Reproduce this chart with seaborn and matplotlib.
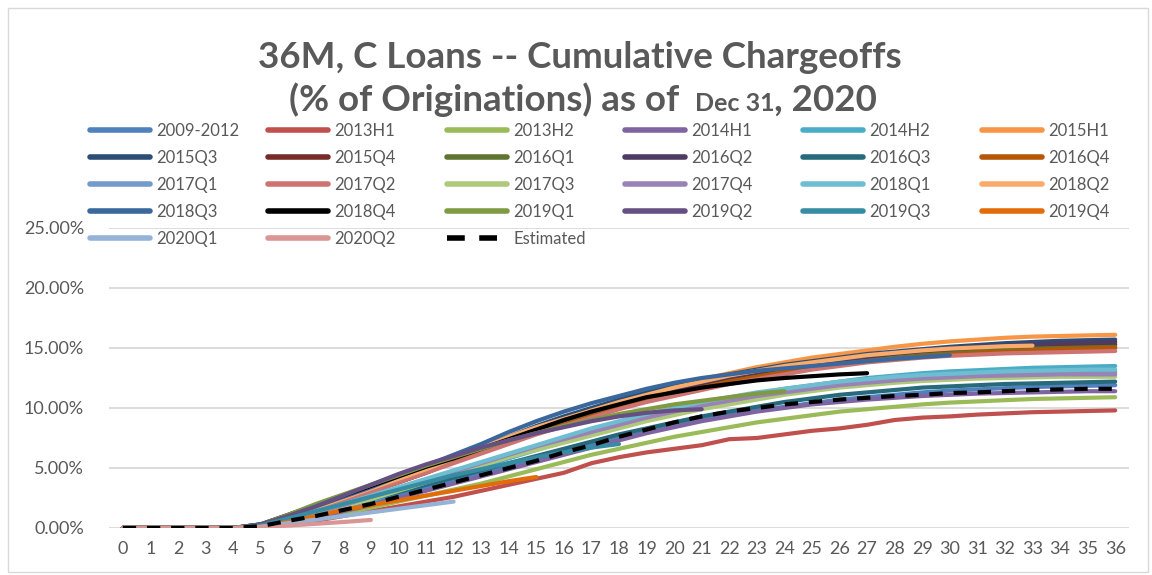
import numpy as np
import pandas as pd
import matplotlib.pyplot as plt
import seaborn as sns
from matplotlib.lines import Line2D
from matplotlib.patches import Rectangle
from matplotlib.ticker import PercentFormatter

sns.set_style("white")
plt.rcParams['font.family'] = ['Lato', 'DejaVu Sans']

# Cumulative chargeoffs (% of originations) by months on book
s_2009_2012 = [0, 0, 0, 0, 0, 0.1, 0.5, 1.0, 1.5, 2.1, 2.7, 3.3, 3.9, 4.5, 5.1, 5.7, 6.3, 6.9, 7.5, 8.0, 8.5, 9.0, 9.4, 9.8, 10.1, 10.4, 10.7, 10.9, 11.1, 11.3, 11.45, 11.55, 11.65, 11.75, 11.8, 11.85, 11.9]
s_2013h1 = [0, 0, 0, 0, 0, 0.1, 0.3, 0.6, 1.0, 1.4, 1.8, 2.2, 2.6, 3.1, 3.6, 4.1, 4.6, 5.4, 5.9, 6.3, 6.6, 6.9, 7.4, 7.5, 7.8, 8.1, 8.3, 8.6, 9.0, 9.2, 9.3, 9.45, 9.55, 9.65, 9.7, 9.75, 9.8]
s_2013h2 = [0, 0, 0, 0, 0, 0.1, 0.4, 0.8, 1.2, 1.7, 2.2, 2.7, 3.2, 3.7, 4.3, 4.9, 5.5, 6.1, 6.6, 7.1, 7.6, 8.0, 8.4, 8.8, 9.1, 9.4, 9.7, 9.9, 10.1, 10.3, 10.45, 10.55, 10.65, 10.75, 10.8, 10.85, 10.9]
s_2014h1 = [0, 0, 0, 0, 0, 0.1, 0.5, 0.9, 1.4, 1.9, 2.5, 3.1, 3.7, 4.3, 4.9, 5.5, 6.1, 6.7, 7.3, 7.9, 8.4, 8.9, 9.3, 9.7, 10.0, 10.3, 10.5, 10.7, 10.85, 11.0, 11.1, 11.2, 11.25, 11.3, 11.35, 11.4, 11.4]
s_2014h2 = [0, 0, 0, 0, 0, 0.15, 0.6, 1.1, 1.7, 2.3, 3.0, 3.7, 4.4, 5.1, 5.8, 6.5, 7.2, 7.9, 8.6, 9.2, 9.8, 10.3, 10.8, 11.2, 11.6, 11.9, 12.2, 12.5, 12.7, 12.9, 13.05, 13.15, 13.25, 13.35, 13.4, 13.45, 13.5]
s_2015h1 = [0, 0, 0, 0, 0, 0.2, 0.8, 1.5, 2.2, 3.0, 3.8, 4.6, 5.5, 6.4, 7.3, 8.2, 9.0, 9.8, 10.5, 11.2, 11.8, 12.4, 12.9, 13.4, 13.8, 14.2, 14.5, 14.8, 15.1, 15.35, 15.55, 15.7, 15.85, 15.95, 16.0, 16.05, 16.1]
s_2015q3 = [0, 0, 0, 0, 0, 0.25, 0.9, 1.6, 2.4, 3.2, 4.0, 4.9, 5.8, 6.7, 7.6, 8.5, 9.3, 10.0, 10.7, 11.3, 11.9, 12.4, 12.8, 13.2, 13.6, 13.9, 14.2, 14.5, 14.7, 14.9, 15.1, 15.25, 15.4, 15.5, 15.6, 15.65, 15.7]
s_2015q4 = [0, 0, 0, 0, 0, 0.2, 0.8, 1.5, 2.2, 3.0, 3.8, 4.6, 5.5, 6.3, 7.2, 8.0, 8.8, 9.5, 10.2, 10.8, 11.4, 11.9, 12.4, 12.8, 13.2, 13.5, 13.8, 14.1, 14.35, 14.55, 14.75, 14.9, 15.05, 15.15, 15.2, 15.25, 15.3]
s_2016q1 = [0, 0, 0, 0, 0, 0.25, 0.9, 1.7, 2.5, 3.3, 4.1, 4.9, 5.7, 6.5, 7.3, 8.1, 8.8, 9.5, 10.1, 10.7, 11.2, 11.7, 12.2, 12.6, 13.0, 13.4, 13.7, 13.95, 14.2, 14.4, 14.55, 14.7, 14.85, 14.95, 15.0, 15.05, 15.1]
s_2016q2 = [0, 0, 0, 0, 0, 0.25, 0.9, 1.7, 2.5, 3.3, 4.2, 5.0, 5.9, 6.7, 7.5, 8.3, 9.0, 9.7, 10.4, 11.0, 11.6, 12.1, 12.6, 13.0, 13.4, 13.7, 14.0, 14.3, 14.55, 14.8, 14.95, 15.1, 15.2, 15.3, 15.4, 15.45, 15.5]
s_2016q3 = [0, 0, 0, 0, 0, 0.2, 0.7, 1.2, 1.8, 2.4, 3.0, 3.6, 4.2, 4.8, 5.4, 6.0, 6.6, 7.2, 7.8, 8.3, 8.8, 9.3, 9.7, 10.1, 10.5, 10.8, 11.1, 11.3, 11.5, 11.7, 11.8, 11.9, 12.0, 12.05, 12.1, 12.15, 12.2]
s_2016q4 = [0, 0, 0, 0, 0, 0.2, 0.8, 1.5, 2.3, 3.1, 3.9, 4.7, 5.5, 6.3, 7.1, 7.9, 8.6, 9.3, 10.0, 10.6, 11.2, 11.7, 12.2, 12.6, 13.0, 13.3, 13.6, 13.9, 14.1, 14.3, 14.45, 14.6, 14.7, 14.8, 14.9, 14.95, 15.0]
s_2017q1 = [0, 0, 0, 0, 0, 0.2, 0.7, 1.3, 1.9, 2.5, 3.2, 3.9, 4.6, 5.3, 6.0, 6.7, 7.4, 8.0, 8.6, 9.2, 9.7, 10.2, 10.6, 11.0, 11.4, 11.7, 12.0, 12.2, 12.4, 12.55, 12.65, 12.75, 12.85, 12.9, 12.95, 13.0, 13.0]
s_2017q2 = [0, 0, 0, 0, 0, 0.2, 0.8, 1.5, 2.2, 3.0, 3.8, 4.6, 5.4, 6.2, 7.0, 7.8, 8.5, 9.2, 9.9, 10.5, 11.0, 11.5, 12.0, 12.4, 12.8, 13.2, 13.5, 13.8, 14.0, 14.2, 14.35, 14.45, 14.55, 14.6, 14.65, 14.7, 14.75]
s_2017q3 = [0, 0, 0, 0, 0, 0.2, 0.7, 1.2, 1.8, 2.4, 3.1, 3.8, 4.5, 5.2, 5.9, 6.5, 7.1, 7.7, 8.3, 8.9, 9.4, 9.9, 10.3, 10.7, 11.1, 11.4, 11.7, 11.9, 12.1, 12.25, 12.35, 12.45, 12.5, 12.55, 12.6, 12.6, 12.6]
s_2017q4 = [0, 0, 0, 0, 0, 0.2, 0.7, 1.3, 1.9, 2.6, 3.3, 4.0, 4.7, 5.4, 6.1, 6.8, 7.4, 8.0, 8.6, 9.2, 9.7, 10.2, 10.6, 11.0, 11.3, 11.6, 11.9, 12.1, 12.3, 12.45, 12.55, 12.65, 12.7, 12.75, 12.8, 12.8, 12.8]
s_2018q1 = [0, 0, 0, 0, 0, 0.2, 0.8, 1.4, 2.0, 2.7, 3.4, 4.1, 4.8, 5.5, 6.2, 6.9, 7.6, 8.3, 8.9, 9.5, 10.0, 10.5, 10.9, 11.3, 11.6, 11.9, 12.2, 12.4, 12.6, 12.75, 12.85, 12.95, 13.05, 13.1, 13.15, 13.2, 13.2]
s_2018q2 = [0, 0, 0, 0, 0, 0.25, 0.9, 1.7, 2.5, 3.3, 4.1, 4.9, 5.8, 6.7, 7.6, 8.4, 9.1, 9.8, 10.5, 11.1, 11.7, 12.2, 12.7, 13.1, 13.5, 13.8, 14.1, 14.4, 14.6, 14.8, 14.95, 15.05, 15.15, 15.2]
s_2018q3 = [0, 0, 0, 0, 0, 0.3, 1.0, 1.8, 2.6, 3.4, 4.3, 5.2, 6.1, 7.0, 8.0, 8.9, 9.7, 10.4, 11.0, 11.6, 12.1, 12.5, 12.8, 13.1, 13.3, 13.5, 13.7, 13.9, 14.1, 14.25, 14.4]
s_2018q4 = [0, 0, 0, 0, 0, 0.3, 1.1, 1.9, 2.7, 3.5, 4.3, 5.1, 5.8, 6.6, 7.4, 8.2, 9.0, 9.7, 10.3, 10.9, 11.3, 11.7, 12.0, 12.3, 12.5, 12.65, 12.8, 12.9]
s_2019q1 = [0, 0, 0, 0, 0, 0.3, 1.1, 2.0, 2.8, 3.6, 4.4, 5.2, 5.9, 6.6, 7.3, 7.9, 8.5, 9.0, 9.5, 9.9, 10.3, 10.6, 10.9, 11.2, 11.4]
s_2019q2 = [0, 0, 0, 0, 0, 0.3, 1.0, 1.8, 2.7, 3.6, 4.5, 5.3, 6.0, 6.7, 7.3, 7.9, 8.4, 8.9, 9.3, 9.6, 9.8, 9.9]
s_2019q3 = [0, 0, 0, 0, 0, 0.2, 0.8, 1.4, 2.0, 2.6, 3.2, 3.8, 4.4, 4.9, 5.4, 5.9, 6.3, 6.7, 7.0]
s_2019q4 = [0, 0, 0, 0, 0, 0.1, 0.5, 1.0, 1.5, 1.9, 2.3, 2.7, 3.1, 3.5, 3.9, 4.25]
s_2020q1 = [0, 0, 0, 0, 0, 0.1, 0.4, 0.7, 1.0, 1.3, 1.6, 1.9, 2.2]
s_2020q2 = [0, 0, 0, 0, 0, 0.05, 0.2, 0.35, 0.5, 0.67]
s_estimated = [0, 0, 0, 0, 0, 0.15, 0.6, 1.0, 1.5, 2.0, 2.6, 3.2, 3.8, 4.4, 5.0, 5.6, 6.3, 6.9, 7.6, 8.2, 8.8, 9.3, 9.7, 10.0, 10.3, 10.5, 10.7, 10.85, 11.0, 11.1, 11.25, 11.3, 11.4, 11.5, 11.55, 11.6, 11.6]

cohorts = ['2009-2012', '2013H1', '2013H2', '2014H1', '2014H2', '2015H1',
           '2015Q3', '2015Q4', '2016Q1', '2016Q2', '2016Q3', '2016Q4',
           '2017Q1', '2017Q2', '2017Q3', '2017Q4', '2018Q1', '2018Q2',
           '2018Q3', '2018Q4', '2019Q1', '2019Q2', '2019Q3', '2019Q4',
           '2020Q1', '2020Q2', 'Estimated']
series = [s_2009_2012, s_2013h1, s_2013h2, s_2014h1, s_2014h2, s_2015h1,
          s_2015q3, s_2015q4, s_2016q1, s_2016q2, s_2016q3, s_2016q4,
          s_2017q1, s_2017q2, s_2017q3, s_2017q4, s_2018q1, s_2018q2,
          s_2018q3, s_2018q4, s_2019q1, s_2019q2, s_2019q3, s_2019q4,
          s_2020q1, s_2020q2, s_estimated]
colors = ['#4F81BD', '#C0504D', '#9BBB59', '#8064A2', '#4BACC6', '#F79646',
          '#2C4D75', '#772C2A', '#5F7530', '#4D3B62', '#276A7C', '#B65708',
          '#729ACA', '#CD7371', '#AFC97A', '#9983B5', '#6FBDD1', '#F9AB6B',
          '#3A679C', '#000000', '#7F9A41', '#664F83', '#358CA3', '#E36C0A',
          '#95B3D7', '#D99694', '#000000']
x_ticks = list(range(37))
y_ticks = [0, 5, 10, 15, 20, 25]

# Long-form data
rows = []
for name, vals in zip(cohorts, series):
    for m, v in enumerate(vals):
        rows.append({'month': m, 'pct': v, 'cohort': name})
df = pd.DataFrame(rows)

palette = dict(zip(cohorts, colors))
dash_est = (3.2, 2.6)
dashes = {c: '' for c in cohorts}
dashes['Estimated'] = dash_est

txt = '#595959'
grid = '#D9D9D9'

fig = plt.figure(figsize=(11.52, 5.75), dpi=100)
ax = fig.add_axes([109 / 1152, 47 / 575, 1020 / 1152, 300 / 575])

sns.lineplot(data=df, x='month', y='pct', hue='cohort', hue_order=cohorts,
             palette=palette, style='cohort', style_order=cohorts, dashes=dashes,
             linewidth=3, legend=False, sort=False, estimator=None, ax=ax)

ax.set_xlim(-0.5, 36.5)
ax.set_ylim(0, 25)
ax.set_xticks(x_ticks)
ax.set_yticks(y_ticks)
ax.yaxis.set_major_formatter(PercentFormatter(decimals=2))
ax.tick_params(axis='both', length=0, labelsize=13, labelcolor=txt)
ax.tick_params(axis='x', pad=9)
ax.tick_params(axis='y', pad=18)
ax.set_xlabel('')
ax.set_ylabel('')
ax.grid(axis='y', color=grid, linewidth=1.3)
ax.set_axisbelow(True)
for sp in ax.spines.values():
    sp.set_visible(False)

# Chart border
fig.add_artist(Rectangle((8 / 1152, 3 / 575), 1140 / 1152, 564 / 575,
                         transform=fig.transFigure, fill=False,
                         edgecolor=grid, linewidth=1))

# Title
fig.text(0.503, 1 - 68 / 575, '36M, C Loans -- Cumulative Chargeoffs', ha='center',
         va='baseline', fontsize=26.5, fontweight='bold', color=txt)
renderer = fig.canvas.get_renderer()
y2 = 1 - 111 / 575
parts = [('(% of Originations) as of', 26.5), ('Dec 31', 18), (', 2020', 26.5)]
objs = [fig.text(0, y2, p, fontsize=s, fontweight='bold', color=txt,
                 ha='left', va='baseline') for p, s in parts]
widths = [o.get_window_extent(renderer).width / 1152 for o in objs]
gap = 16 / 1152
total = sum(widths) + gap
x0 = 0.506 - total / 2
objs[0].set_x(x0)
objs[1].set_x(x0 + widths[0] + gap)
objs[2].set_x(x0 + widths[0] + gap + widths[1])

# Legend: six aligned columns
col_x = [90, 268, 447, 625, 803, 982]
for c in range(6):
    idx = list(range(c, len(cohorts), 6))
    handles = [Line2D([0], [0], color=colors[i], lw=4,
                      linestyle=(0, dash_est) if cohorts[i] == 'Estimated' else '-')
               for i in idx]
    labels = [cohorts[i] for i in idx]
    fig.legend(handles, labels, loc='upper left',
               bbox_to_anchor=(col_x[c] / 1152, 1 - 123 / 575),
               bbox_transform=fig.transFigure, frameon=False, fontsize=12,
               handlelength=3.6, handletextpad=0.4, labelspacing=0.66,
               borderpad=0, borderaxespad=0, labelcolor=txt)

fig.savefig('out.png', dpi=100)
